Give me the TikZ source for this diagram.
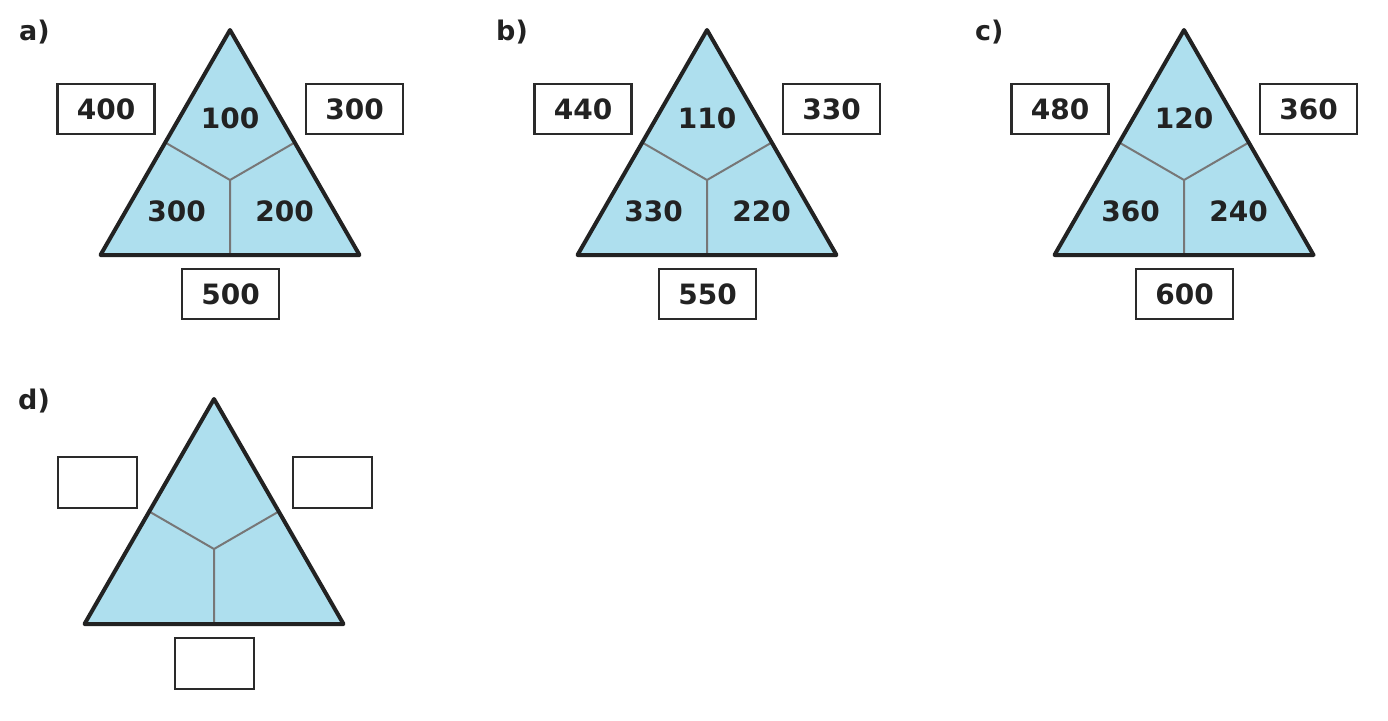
\documentclass[tikz,border=0pt]{standalone}
\usepackage{fontspec}
\setmainfont{DejaVu Sans}
\usetikzlibrary{calc}
\definecolor{triblue}{HTML}{AEDFEE}
\definecolor{inkdark}{HTML}{222222}
\definecolor{spokegray}{HTML}{777777}
\definecolor{boxline}{HTML}{2A2A2A}
\begin{document}
\begin{tikzpicture}[x=1pt,y=-1pt,
	area/.style={fill=triblue},
	rim/.style={draw=inkdark,line width=4pt,line join=round},
	spoke/.style={draw=spokegray,line width=2pt},
	num/.style={text=inkdark,font=\bfseries\fontsize{28}{33}\selectfont},
	sumbox/.style={num,draw=boxline,line width=2.2pt,minimum width=97pt,minimum height=50pt,inner sep=0pt},
	panel/.style={text=inkdark,font=\bfseries\fontsize{27}{32}\selectfont,anchor=base west,inner sep=0pt}]
\useasboundingbox (0,0) rectangle (1388,720);
\begin{scope}[shift={(230,30)}]
	\coordinate (a-top) at (0,0);
	\coordinate (a-left) at (-129.5,225);
	\coordinate (a-right) at (129.5,225);
	\coordinate (a-mid) at (0,150);
	\fill[area] (a-top) -- (a-left) -- (a-right) -- cycle;
	\draw[spoke] ($(a-top)!.5!(a-left)$) -- (a-mid) -- ($(a-top)!.5!(a-right)$) (a-mid) -- ($(a-left)!.5!(a-right)$);
	\draw[rim] (a-top) -- (a-left) -- (a-right) -- cycle;
	\node[num] (a-n1) at (0,88) {100};
	\node[num] (a-n2) at (-53.5,181.5) {300};
	\node[num] (a-n3) at (54.5,181.5) {200};
	\node[sumbox] (a-s1) at (-124,79) {400};
	\node[sumbox] (a-s2) at (124.5,79) {300};
	\node[sumbox] (a-s3) at (0.5,264) {500};
	\node[panel] (a-lbl) at (-211,10) {a)};
\end{scope}
\begin{scope}[shift={(707,30)}]
	\coordinate (b-top) at (0,0);
	\coordinate (b-left) at (-129.5,225);
	\coordinate (b-right) at (129.5,225);
	\coordinate (b-mid) at (0,150);
	\fill[area] (b-top) -- (b-left) -- (b-right) -- cycle;
	\draw[spoke] ($(b-top)!.5!(b-left)$) -- (b-mid) -- ($(b-top)!.5!(b-right)$) (b-mid) -- ($(b-left)!.5!(b-right)$);
	\draw[rim] (b-top) -- (b-left) -- (b-right) -- cycle;
	\node[num] (b-n1) at (0,88) {110};
	\node[num] (b-n2) at (-53.5,181.5) {330};
	\node[num] (b-n3) at (54.5,181.5) {220};
	\node[sumbox] (b-s1) at (-124,79) {440};
	\node[sumbox] (b-s2) at (124.5,79) {330};
	\node[sumbox] (b-s3) at (0.5,264) {550};
	\node[panel] (b-lbl) at (-211,10) {b)};
\end{scope}
\begin{scope}[shift={(1184,30)}]
	\coordinate (c-top) at (0,0);
	\coordinate (c-left) at (-129.5,225);
	\coordinate (c-right) at (129.5,225);
	\coordinate (c-mid) at (0,150);
	\fill[area] (c-top) -- (c-left) -- (c-right) -- cycle;
	\draw[spoke] ($(c-top)!.5!(c-left)$) -- (c-mid) -- ($(c-top)!.5!(c-right)$) (c-mid) -- ($(c-left)!.5!(c-right)$);
	\draw[rim] (c-top) -- (c-left) -- (c-right) -- cycle;
	\node[num] (c-n1) at (0,88) {120};
	\node[num] (c-n2) at (-53.5,181.5) {360};
	\node[num] (c-n3) at (54.5,181.5) {240};
	\node[sumbox] (c-s1) at (-124,79) {480};
	\node[sumbox] (c-s2) at (124.5,79) {360};
	\node[sumbox] (c-s3) at (0.5,264) {600};
	\node[panel] (c-lbl) at (-209,10) {c)};
\end{scope}
\begin{scope}[shift={(214,399)}]
	\coordinate (d-top) at (0,0);
	\coordinate (d-left) at (-129.5,225);
	\coordinate (d-right) at (129.5,225);
	\coordinate (d-mid) at (0,150);
	\fill[area] (d-top) -- (d-left) -- (d-right) -- cycle;
	\draw[spoke] ($(d-top)!.5!(d-left)$) -- (d-mid) -- ($(d-top)!.5!(d-right)$) (d-mid) -- ($(d-left)!.5!(d-right)$);
	\draw[rim] (d-top) -- (d-left) -- (d-right) -- cycle;
	\node[sumbox,minimum width=79pt,minimum height=51pt] (d-s1) at (-116.7,83.3) {};
	\node[sumbox,minimum width=79pt,minimum height=51pt] (d-s2) at (118.5,83.3) {};
	\node[sumbox,minimum width=79pt,minimum height=51pt] (d-s3) at (0.7,264.5) {};
	\node[panel] (d-lbl) at (-196,10) {d)};
\end{scope}
\end{tikzpicture}
\end{document}
